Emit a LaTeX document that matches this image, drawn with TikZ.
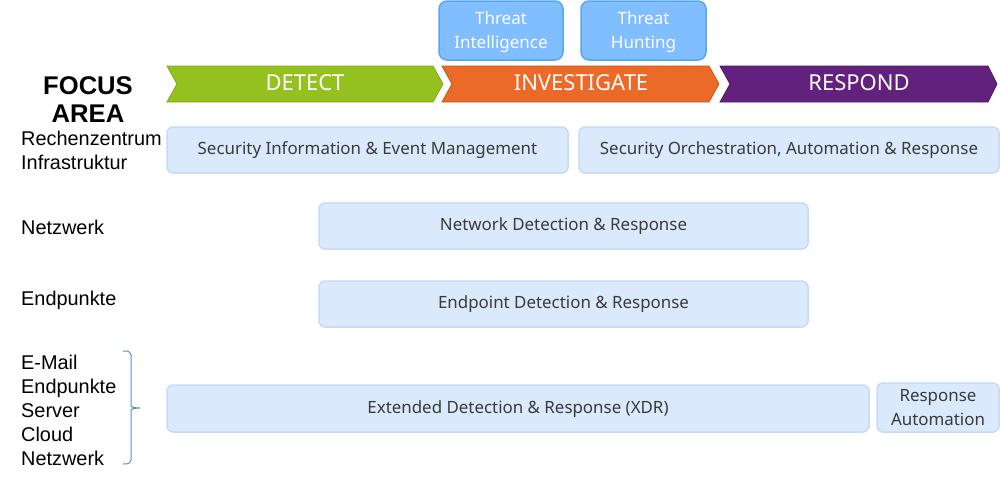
\documentclass[tikz,border=0pt]{standalone}
\usepackage{fontspec}
\setmainfont{Noto Sans}
\newfontfamily\arialf{Liberation Sans}
\definecolor{cgreen}{HTML}{94C11F}
\definecolor{cgreenb}{HTML}{7FA71A}
\definecolor{corange}{HTML}{EB6A27}
\definecolor{corangeb}{HTML}{C9561C}
\definecolor{cpurple}{HTML}{63217E}
\definecolor{cpurpleb}{HTML}{4E1964}
\definecolor{tfill}{HTML}{80BEFF}
\definecolor{tborder}{HTML}{58A6F2}
\definecolor{lfill}{HTML}{DAE9FB}
\definecolor{lborder}{HTML}{C3DCF7}
\definecolor{ltext}{HTML}{3A3A3A}
\definecolor{bracec}{HTML}{5B8CCB}
\begin{document}
\begin{tikzpicture}[x=1pt,y=-1pt,
  lbox/.style={draw=lborder,fill=lfill,line width=1.5pt,rounded corners=6pt},
  tbox/.style={draw=tborder,fill=tfill,line width=1.5pt,rounded corners=8pt},
  ltxt/.style={text=ltext,font=\fontsize{16.9}{19}\selectfont,align=center,inner sep=0pt},
  ttxt/.style={text=white,font=\fontsize{17}{24}\selectfont,align=center,inner sep=0pt},
  ctxt/.style={text=white,font=\fontsize{22}{24}\selectfont,inner sep=0pt},
  side/.style={font=\arialf\fontsize{19.9}{24}\selectfont,anchor=west,inner sep=0pt,align=left}]
\useasboundingbox (0,0) rectangle (1000,482);
% chevrons
\draw[fill=cgreen,draw=cgreenb,line width=0.8pt] (167,66) -- (433,66) -- (443,84) -- (433,102) -- (167,102) -- (177,84) -- cycle;
\draw[fill=corange,draw=corangeb,line width=0.8pt] (442,66) -- (709,66) -- (719,84) -- (709,102) -- (442,102) -- (452,84) -- cycle;
\draw[fill=cpurple,draw=cpurpleb,line width=0.8pt] (720,66) -- (988,66) -- (997,84) -- (988,102) -- (720,102) -- (730,84) -- cycle;
\node[ctxt] (detect) at (305,83) {DETECT};
\node[ctxt] (investigate) at (581,83) {INVESTIGATE};
\node[ctxt] (respond) at (859,83) {RESPOND};
% threat boxes
\draw[tbox] (439,1) rectangle (563,60);
\draw[tbox] (581,1) rectangle (706,60);
\node[ttxt] (ti) at (501,32) {Threat\\Intelligence};
\node[ttxt] (th) at (643.5,32) {Threat\\Hunting};
% light boxes
\draw[lbox] (167,127) rectangle (568,173);
\draw[lbox] (579,127) rectangle (999,173);
\draw[lbox] (319,203) rectangle (808,249);
\draw[lbox] (319,281) rectangle (808,327);
\draw[lbox] (167,385) rectangle (869,432);
\draw[lbox] (877,383) rectangle (999,432);
\node[ltxt] (siem) at (367.5,150.5) {Security Information \& Event Management};
\node[ltxt] (soar) at (789,150.5) {Security Orchestration, Automation \& Response};
\node[ltxt] (ndr) at (563.5,226.5) {Network Detection \& Response};
\node[ltxt] (edr) at (563.5,304.5) {Endpoint Detection \& Response};
\node[ltxt] (xdr) at (518,409) {Extended Detection \& Response (XDR)};
\node[ltxt,font=\fontsize{16.9}{24}\selectfont] (ra) at (938,408) {Response\\Automation};
% left labels
\node[font=\arialf\bfseries\fontsize{25.6}{28}\selectfont,align=center,inner sep=0pt] (focus) at (88,100) {FOCUS\\AREA};
\node[side] (rz) at (21,150.5) {Rechenzentrum\\Infrastruktur};
\node[side] (nw) at (21,227) {Netzwerk};
\node[side] (ep) at (21,300) {Endpunkte};
\node[side] (list) at (21,410) {E-Mail\\Endpunkte\\Server\\Cloud\\Netzwerk};
% brace
\draw[bracec,line width=1pt] (123,351) .. controls (129,351) .. (131,355) -- (131,404) .. controls (131,407.5) .. (140,408) .. controls (131,408.5) .. (131,412) -- (131,460) .. controls (129,464) .. (123,464);
\end{tikzpicture}
\end{document}
